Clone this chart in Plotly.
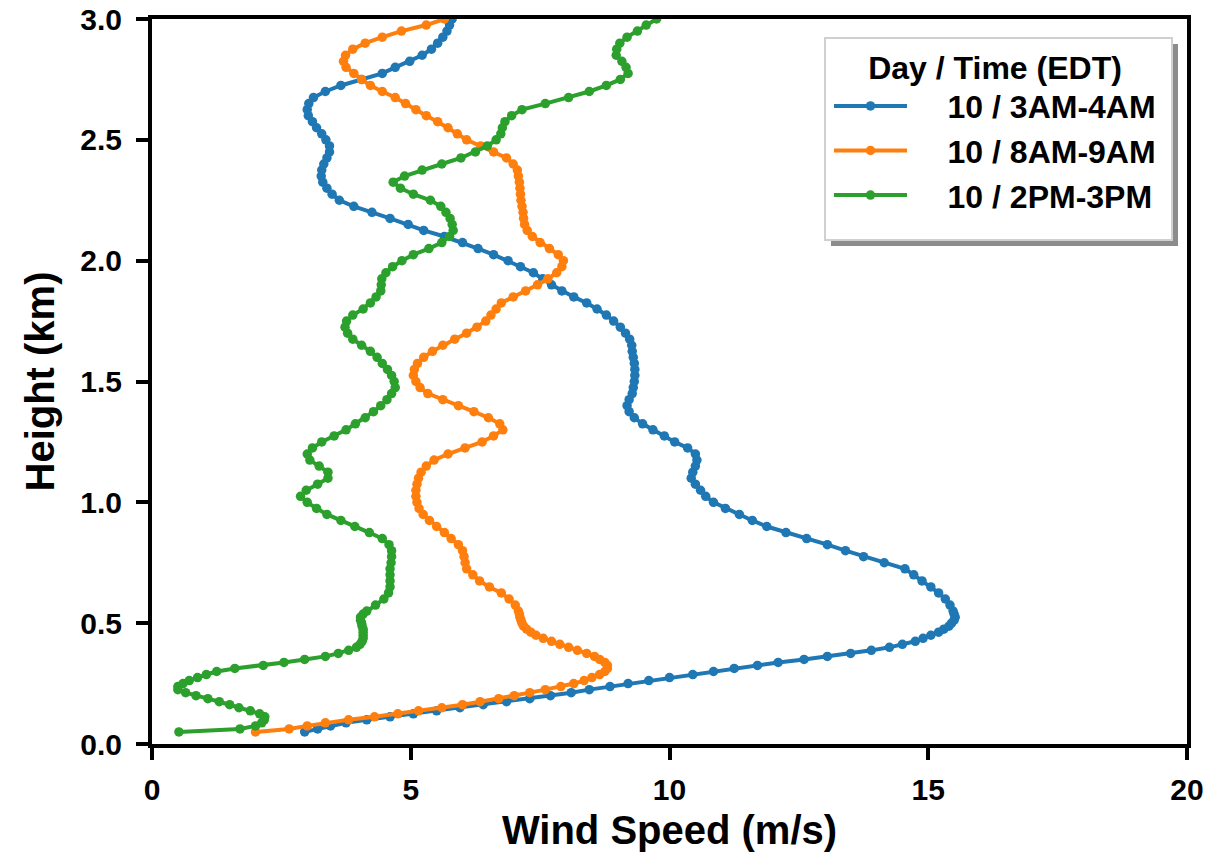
import plotly.graph_objects as go

# Height grid (km): fine steps near the ground, then 25 m steps
HEIGHT_KM = [
    0.05, 0.0625, 0.075, 0.0875, 0.1, 0.1125, 0.125, 0.1375, 0.15, 0.1625,
    0.175, 0.1875, 0.2, 0.2125, 0.225, 0.2375, 0.25, 0.2625, 0.275, 0.2875,
    0.3, 0.3125, 0.325, 0.3375, 0.35, 0.3625, 0.375, 0.3875, 0.4, 0.4125,
    0.425, 0.4375, 0.45, 0.4625, 0.475, 0.4875, 0.5, 0.5125, 0.525, 0.5375,
    0.55,
    0.575,
    0.6, 0.625, 0.65, 0.675,
    0.7, 0.725, 0.75, 0.775,
    0.8, 0.825, 0.85, 0.875,
    0.9, 0.925, 0.95, 0.975,
    1.0, 1.025, 1.05, 1.075,
    1.1, 1.125, 1.15, 1.175,
    1.2, 1.225, 1.25, 1.275,
    1.3, 1.325, 1.35, 1.375,
    1.4, 1.425, 1.45, 1.475,
    1.5, 1.525, 1.55, 1.575,
    1.6, 1.625, 1.65, 1.675,
    1.7, 1.725, 1.75, 1.775,
    1.8, 1.825, 1.85, 1.875,
    1.9, 1.925, 1.95, 1.975,
    2.0, 2.025, 2.05, 2.075,
    2.1, 2.125, 2.15, 2.175,
    2.2, 2.225, 2.25, 2.275,
    2.3, 2.325, 2.35, 2.375,
    2.4, 2.425, 2.45, 2.475,
    2.5, 2.525, 2.55, 2.575,
    2.6, 2.625, 2.65, 2.675,
    2.7, 2.725, 2.75, 2.775,
    2.8, 2.825, 2.85, 2.875,
    2.9, 2.925, 2.95, 2.975,
    3.0,
]

# 10 / 3AM-4AM
WS_3AM = [
    2.95, 3.2, 3.45, 3.75, 4.15, 4.6, 5.05, 5.5, 5.95, 6.4,
    6.85, 7.3, 7.7, 8.1, 8.45, 8.85, 9.2, 9.6, 10.0, 10.45,
    10.85, 11.25, 11.7, 12.1, 12.6, 13.05, 13.5, 13.9, 14.25, 14.5,
    14.75, 14.9, 15.05, 15.2, 15.3, 15.4, 15.45, 15.5, 15.52, 15.5,
    15.48,
    15.42,
    15.33, 15.2, 15.05, 14.88,
    14.72, 14.55, 14.15, 13.75,
    13.4, 13.05, 12.65, 12.25,
    11.88, 11.6, 11.35, 11.08,
    10.85, 10.7, 10.6, 10.5,
    10.42, 10.45, 10.5, 10.53,
    10.5, 10.35, 10.1, 9.9,
    9.68, 9.48, 9.32, 9.22,
    9.18, 9.22, 9.28, 9.3,
    9.32, 9.33, 9.33, 9.32,
    9.3, 9.28, 9.27, 9.23,
    9.15, 9.05, 8.92, 8.78,
    8.6, 8.4, 8.15, 7.92,
    7.72, 7.55, 7.37, 7.12,
    6.88, 6.6, 6.3, 6.0,
    5.65, 5.25, 4.95, 4.6,
    4.25, 3.9, 3.62, 3.48,
    3.38, 3.3, 3.27, 3.28,
    3.32, 3.38, 3.43, 3.43,
    3.36, 3.28, 3.18, 3.1,
    3.02, 3.0, 3.03, 3.12,
    3.35, 3.65, 4.05, 4.45,
    4.7, 4.98, 5.22, 5.4,
    5.52, 5.62, 5.7, 5.75,
    5.8,
]

# 10 / 8AM-9AM
WS_8AM = [
    2.0, 2.65, 3.0, 3.35, 3.8, 4.3, 4.75, 5.15, 5.6, 6.0,
    6.34, 6.7, 7.0, 7.3, 7.6, 7.9, 8.15, 8.35, 8.5, 8.65,
    8.75, 8.8, 8.8, 8.75, 8.65, 8.55, 8.4, 8.22, 8.05, 7.88,
    7.72, 7.56, 7.42, 7.32, 7.24, 7.18, 7.15, 7.13, 7.11, 7.1,
    7.08,
    7.02,
    6.9, 6.75, 6.52, 6.33,
    6.2, 6.08, 6.05, 6.03,
    6.0, 5.92, 5.78, 5.65,
    5.5, 5.36, 5.24, 5.16,
    5.12, 5.1, 5.1, 5.12,
    5.15, 5.2, 5.3, 5.45,
    5.72, 6.05, 6.38, 6.6,
    6.78, 6.72, 6.5, 6.22,
    5.92, 5.62, 5.33, 5.18,
    5.1, 5.05, 5.07, 5.13,
    5.25, 5.42, 5.62, 5.85,
    6.08, 6.28, 6.45, 6.55,
    6.65, 6.75, 6.98, 7.22,
    7.45, 7.65, 7.82, 7.92,
    7.95, 7.85, 7.68, 7.5,
    7.35, 7.25, 7.2, 7.18,
    7.17, 7.15, 7.13, 7.12,
    7.11, 7.1, 7.08, 7.06,
    6.98, 6.85, 6.6, 6.35,
    6.08, 5.9, 5.72, 5.52,
    5.3, 5.1, 4.9, 4.7,
    4.45, 4.22, 4.05, 3.9,
    3.75, 3.7, 3.74, 3.88,
    4.12, 4.45, 4.82, 5.3,
    5.65,
]

# 10 / 2PM-3PM
WS_2PM = [
    0.52, 1.7, 2.0, 2.12, 2.17, 2.18, 2.08, 1.9, 1.68, 1.5,
    1.3, 1.08, 0.85, 0.65, 0.5, 0.5, 0.6, 0.72, 0.88, 1.05,
    1.25, 1.6, 2.15, 2.55, 2.95, 3.35, 3.6, 3.8, 3.95, 4.02,
    4.06, 4.08, 4.08, 4.08, 4.08, 4.06, 4.05, 4.03, 4.03, 4.08,
    4.15,
    4.32,
    4.48, 4.57, 4.6, 4.6,
    4.6, 4.6, 4.62, 4.63,
    4.63, 4.58, 4.45, 4.2,
    3.92, 3.65, 3.38, 3.18,
    3.0, 2.87, 2.98, 3.2,
    3.4, 3.4, 3.23, 3.05,
    3.0, 3.1, 3.28, 3.52,
    3.75, 3.93, 4.12, 4.28,
    4.42, 4.54, 4.63, 4.7,
    4.68, 4.63, 4.55, 4.45,
    4.35, 4.22, 4.05, 3.88,
    3.78, 3.73, 3.76, 3.88,
    4.08, 4.22, 4.33, 4.42,
    4.43, 4.44, 4.52, 4.65,
    4.83, 5.05, 5.35, 5.6,
    5.75, 5.82, 5.8, 5.76,
    5.68, 5.58, 5.38, 5.05,
    4.8, 4.66, 4.88, 5.22,
    5.6, 5.97, 6.25, 6.48,
    6.65, 6.74, 6.77, 6.82,
    6.95, 7.15, 7.6, 8.05,
    8.45, 8.78, 9.05, 9.2,
    9.16, 9.08, 8.97, 8.98,
    9.04, 9.18, 9.38, 9.55,
    9.75,
]

SERIES_NAMES = ["10 / 3AM-4AM", "10 / 8AM-9AM", "10 / 2PM-3PM"]
SERIES_COLORS = ["#1f77b4", "#ff7f0e", "#2ca02c"]
X_TICKS = [0, 5, 10, 15, 20]
Y_TICKS = [0.0, 0.5, 1.0, 1.5, 2.0, 2.5, 3.0]

FONT = "Liberation Sans, Arial, sans-serif"
PAD = "\u00a0" * 4  # gap between legend symbol and label

fig = go.Figure()
for name, color, ws in zip(SERIES_NAMES, SERIES_COLORS, [WS_3AM, WS_8AM, WS_2PM]):
    fig.add_trace(go.Scatter(
        x=ws, y=HEIGHT_KM, mode="lines+markers", name=PAD + name,
        line=dict(color=color, width=4),
        marker=dict(color=color, size=9.5),
    ))

W, H = 1230, 859
L, R, T, B = 152, 43, 19, 115
pw, ph = W - L - R, H - T - B


def px2paper(px, py):
    return (px - L) / pw, (H - B - py) / ph


# legend frame with shadow
sx0, sy0 = px2paper(831, 246)
sx1, sy1 = px2paper(1178, 44)
fx0, fy0 = px2paper(825, 240)
fx1, fy1 = px2paper(1172, 38)
shapes = [
    dict(type="rect", xref="paper", yref="paper", x0=sx0, y0=sy0, x1=sx1, y1=sy1,
         fillcolor="#8c8c8c", line=dict(width=0), layer="above"),
    dict(type="rect", xref="paper", yref="paper", x0=fx0, y0=fy0, x1=fx1, y1=fy1,
         fillcolor="white", line=dict(color="#d0d0d0", width=2), layer="above"),
]

lx, ly = px2paper(829, 37)

axis_common = dict(
    showline=True, linecolor="black", linewidth=4, mirror=True,
    ticks="outside", ticklen=12, tickwidth=4, tickcolor="black",
    showgrid=False, zeroline=False, automargin=False,
    tickfont=dict(family=FONT, size=30, color="black", weight="bold"),
)

fig.update_layout(
    width=W, height=H,
    margin=dict(l=L, r=R, t=T, b=B),
    paper_bgcolor="white", plot_bgcolor="white",
    shapes=shapes,
    xaxis=dict(
        range=[0, 20], tickmode="array", tickvals=X_TICKS,
        ticktext=[str(v) for v in X_TICKS],
        ticklabelstandoff=4,
        title=dict(text="Wind Speed (m/s)", standoff=12,
                   font=dict(family=FONT, size=40, color="black", weight="bold")),
        **axis_common,
    ),
    yaxis=dict(
        range=[0, 3], tickmode="array", tickvals=Y_TICKS,
        ticktext=[f"{v:.1f}" for v in Y_TICKS],
        ticklabelstandoff=8,
        title=dict(text="Height (km)", standoff=14,
                   font=dict(family=FONT, size=40, color="black", weight="bold")),
        **axis_common,
    ),
    legend=dict(
        x=lx, y=ly, xanchor="left", yanchor="top",
        bgcolor="rgba(0,0,0,0)", borderwidth=0,
        font=dict(family=FONT, size=32, color="black", weight="bold"),
        title=dict(text="Day / Time (EDT)", side="top center",
                   font=dict(family=FONT, size=32, color="black", weight="bold")),
        itemwidth=73,
    ),
    showlegend=True,
)

fig.write_html("out.html")
